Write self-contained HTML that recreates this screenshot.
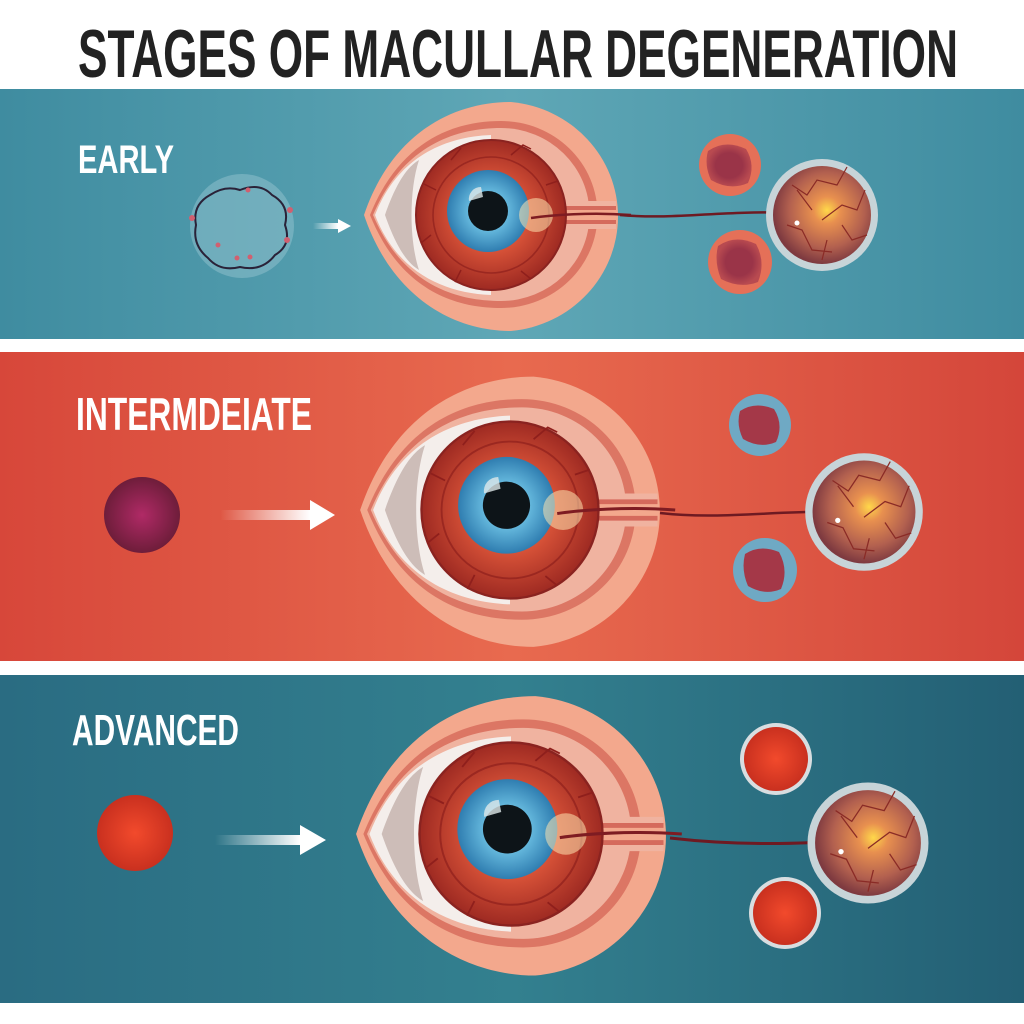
<!DOCTYPE html>
<html><head><meta charset="utf-8"><style>html,body{margin:0;padding:0;background:#fff}svg{display:block}</style></head>
<body>
<svg width="1024" height="1024" viewBox="0 0 1024 1024" xmlns="http://www.w3.org/2000/svg">
<defs>
<linearGradient id="p1" x1="0" y1="0" x2="1" y2="0"><stop offset="0" stop-color="#3f8ca0"/><stop offset="0.5" stop-color="#5fa7b6"/><stop offset="1" stop-color="#3f8ca0"/></linearGradient>
<linearGradient id="p2" x1="0" y1="0" x2="1" y2="0"><stop offset="0" stop-color="#d7473a"/><stop offset="0.5" stop-color="#e86a4f"/><stop offset="1" stop-color="#d4463a"/></linearGradient>
<linearGradient id="p3" x1="0" y1="0" x2="1" y2="0"><stop offset="0" stop-color="#2a6c82"/><stop offset="0.5" stop-color="#33808f"/><stop offset="1" stop-color="#235f74"/></linearGradient>
<radialGradient id="red" cx="0.5" cy="0.5" r="0.5"><stop offset="0.4" stop-color="#e0583b"/><stop offset="1" stop-color="#9e2a22"/></radialGradient>
<radialGradient id="blue" cx="0.5" cy="0.5" r="0.5"><stop offset="0.4" stop-color="#6cc0e3"/><stop offset="1" stop-color="#2f7db0"/></radialGradient>
<radialGradient id="ret" cx="0.55" cy="0.45" r="0.55"><stop offset="0" stop-color="#ffd84a"/><stop offset="0.25" stop-color="#e8904f"/><stop offset="0.7" stop-color="#b2604f"/><stop offset="1" stop-color="#7e3a40"/></radialGradient>
<radialGradient id="rs" cx="0.5" cy="0.5" r="0.5"><stop offset="0" stop-color="#f24a2c"/><stop offset="1" stop-color="#c9301f"/></radialGradient>
<radialGradient id="ps" cx="0.5" cy="0.5" r="0.5"><stop offset="0" stop-color="#b02a66"/><stop offset="1" stop-color="#6e1d3a"/></radialGradient>
<radialGradient id="blob" cx="0.5" cy="0.5" r="0.5"><stop offset="0.6" stop-color="#9a3448"/><stop offset="1" stop-color="#b84a50"/></radialGradient>
<linearGradient id="arr" x1="0" y1="0" x2="1" y2="0"><stop offset="0" stop-color="#fff" stop-opacity="0"/><stop offset="1" stop-color="#fff"/></linearGradient>
<g id="eye">
  <path d="M -127,0 C -100,-80 -40,-113 20,-113 A 118 115 0 0 1 20,116 C -40,116 -100,80 -127,0 Z" fill="#f3a88d"/>
  <path d="M -121,0 C -92,-72 -40,-94 10,-94 A 96 93 0 0 1 10,93 C -40,93 -92,72 -121,0 Z" fill="#dc7664"/>
  <path d="M -118,0 C -90,-66 -40,-87 10,-87 A 88 86 0 0 1 10,86 C -40,86 -90,66 -118,0 Z" fill="#f0b3a0"/>
  <path d="M 70,-14 L 125,-14 L 125,14 L 70,14 Z" fill="#f0b3a0"/>
  <path d="M 70,-9 L 125,-9 L 125,9 L 70,9 Z" fill="#d56a5c"/>
  <path d="M 70,-5 L 125,-5 L 125,5 L 70,5 Z" fill="#f3a88d"/>
  <path d="M -116,0 C -95,-55 -50,-78 0,-80 L 0,80 C -50,78 -95,55 -116,0 Z" fill="#f4eeeb"/>
  <path d="M -106,0 C -92,-40 -80,-50 -72,-55 C -82,-25 -82,25 -72,55 C -80,50 -92,40 -106,0 Z" fill="#cdbdb8"/>
  <circle r="75" fill="url(#red)"/>
  <circle r="75" fill="none" stroke="#8a2320" stroke-width="2"/>
  <circle r="58" fill="none" stroke="#8f1f1c" stroke-width="1.6" opacity="0.7"/>
  <path d="M -40,-55 l 10,-12 M 20,-60 l 12,-10 l 8,4 M 55,-30 l 12,-4 M -60,20 l -10,8 M -30,55 l -6,12 M 30,56 l 10,8 M -55,-25 l -12,-6" stroke="#8f1f1c" stroke-width="1.5" fill="none"/>
  <circle cx="-3" cy="-4" r="41" fill="url(#blue)"/>
  <circle cx="-3" cy="-4" r="20" fill="#0d1418"/>
  <path d="M -22,-14 A 12 12 0 0 1 -10,-28 L -8,-18 Z" fill="#dfe8ea" opacity="0.8"/>
  <circle cx="45" cy="0" r="17" fill="#fde3b0" opacity="0.55"/>
  <path d="M 40,3 C 60,0 100,-3 140,0" stroke="#7e1c22" stroke-width="2.5" fill="none"/>
</g>
<g id="retina">
  <circle r="56" fill="#c7d4d8"/>
  <circle r="49" fill="url(#ret)"/>
  <path d="M -30,-30 l 15,10 l 10,-15 l 20,5 l 10,-18 M 0,5 l 20,-15 l 15,5 l 8,-20 M -35,10 l 15,5 l 10,20 l 20,2 M 20,10 l 10,15 l 15,-5 M -10,-5 l -15,-20 M 5,25 l -5,20" stroke="#8a2b26" stroke-width="1.2" fill="none"/>
  <circle cx="-25" cy="8" r="2.5" fill="#fff"/>
</g>
</defs>

<text x="518" y="77" text-anchor="middle" font-family="Liberation Sans Narrow, Liberation Sans, sans-serif" font-weight="bold" font-size="68" textLength="880" lengthAdjust="spacingAndGlyphs" fill="#222">STAGES OF MACULLAR DEGENERATION</text>

<rect x="0" y="89" width="1024" height="250" fill="url(#p1)"/>
<rect x="0" y="352" width="1024" height="309" fill="url(#p2)"/>
<rect x="0" y="675" width="1024" height="328" fill="url(#p3)"/>

<text x="78" y="173" font-family="Liberation Sans Narrow, Liberation Sans, sans-serif" font-weight="bold" font-size="40" textLength="96" lengthAdjust="spacingAndGlyphs" fill="#fff">EARLY</text>
<circle cx="242" cy="226" r="52" fill="#9cc8d2" opacity="0.45"/>
<path d="M 210,195 Q 225,185 240,190 Q 260,182 272,195 Q 290,205 285,225 Q 292,245 275,255 Q 262,272 240,267 Q 220,272 208,258 Q 192,245 196,225 Q 192,205 210,195 Z" fill="none" stroke="#2a2238" stroke-width="2"/>
<g fill="#d06070"><circle cx="192" cy="218" r="3"/><circle cx="290" cy="210" r="3"/><circle cx="287" cy="240" r="3"/><circle cx="218" cy="245" r="2.5"/><circle cx="237" cy="258" r="2.5"/><circle cx="250" cy="257" r="2.5"/><circle cx="248" cy="190" r="2.5"/></g>
<rect x="313" y="223" width="25" height="6" fill="url(#arr)"/><path d="M 338,219 L 351,226 L 338,233 Z" fill="#fff"/>
<use href="#eye" transform="translate(491,215)"/>
<g transform="translate(730,165)"><circle r="31" fill="#e57058"/><path d="M -22,-14 Q -5,-26 16,-16 Q 26,0 18,18 Q 0,26 -19,15 Q -26,0 -22,-14 Z" fill="url(#blob)"/></g>
<g transform="translate(740,262)"><circle r="32" fill="#e57058"/><path d="M -22,-16 Q -5,-28 16,-18 Q 26,0 18,20 Q 0,27 -19,17 Q -26,0 -22,-16 Z" fill="url(#blob)"/></g>
<path d="M 620,215 C 680,220 720,210 790,213" stroke="#6e1a22" stroke-width="2.5" fill="none"/>
<use href="#retina" transform="translate(822,215)"/>

<text x="76" y="430" font-family="Liberation Sans Narrow, Liberation Sans, sans-serif" font-weight="bold" font-size="46" textLength="236" lengthAdjust="spacingAndGlyphs" fill="#fff">INTERMDEIATE</text>
<circle cx="142" cy="515" r="38" fill="url(#ps)"/>
<rect x="220" y="510" width="90" height="10" fill="url(#arr)"/><path d="M 310,500 L 335,515 L 310,530 Z" fill="#fff"/>
<use href="#eye" transform="translate(510,510) scale(1.18)"/>
<g transform="translate(760,425)"><circle r="31" fill="#6fa9c4"/><path d="M -20,-14 Q -5,-24 14,-16 Q 24,0 16,17 Q 0,24 -17,14 Q -24,0 -20,-14 Z" fill="#a43848"/></g>
<g transform="translate(765,570)"><circle r="32" fill="#6fa9c4"/><path d="M -20,-16 Q -5,-26 14,-18 Q 24,0 16,19 Q 0,26 -17,16 Q -24,0 -20,-16 Z" fill="#a43848"/></g>
<path d="M 660,513 C 720,520 780,510 840,512" stroke="#6e1a22" stroke-width="2.5" fill="none"/>
<use href="#retina" transform="translate(864,512) scale(1.05)"/>

<text x="72" y="745" font-family="Liberation Sans Narrow, Liberation Sans, sans-serif" font-weight="bold" font-size="44" textLength="167" lengthAdjust="spacingAndGlyphs" fill="#fff">ADVANCED</text>
<circle cx="135" cy="833" r="38" fill="url(#rs)"/>
<rect x="215" y="835" width="85" height="10" fill="url(#arr)"/><path d="M 300,825 L 326,840 L 300,855 Z" fill="#fff"/>
<use href="#eye" transform="translate(511,834) scale(1.22)"/>
<circle cx="776" cy="759" r="36" fill="#d8dde0"/><circle cx="776" cy="759" r="32" fill="url(#rs)"/>
<circle cx="785" cy="913" r="36" fill="#d8dde0"/><circle cx="785" cy="913" r="32" fill="url(#rs)"/>
<path d="M 670,838 C 730,845 790,845 858,840" stroke="#6e1a22" stroke-width="3" fill="none"/>
<use href="#retina" transform="translate(868,843) scale(1.08)"/>
</svg>
</body></html>
